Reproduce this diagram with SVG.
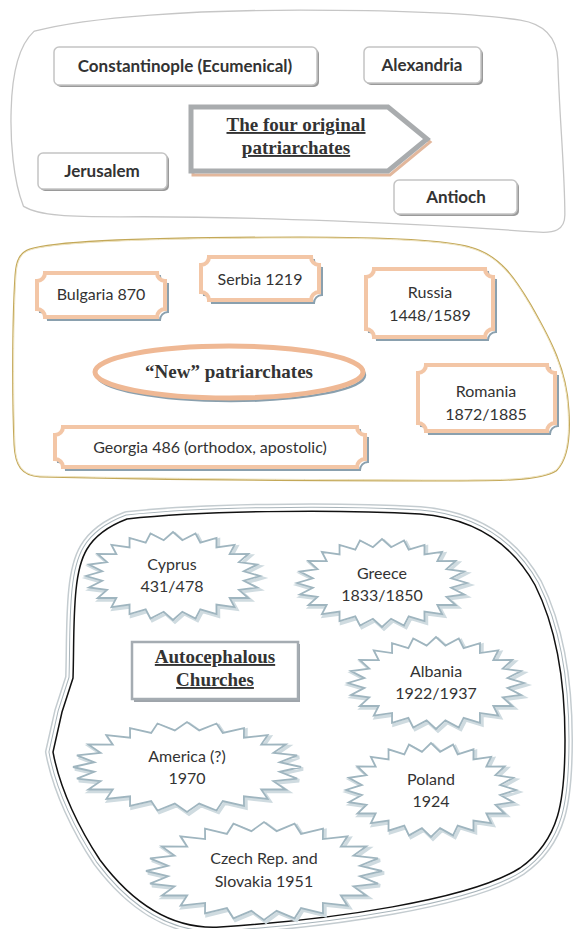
<svg xmlns="http://www.w3.org/2000/svg" width="573" height="929" viewBox="0 0 573 929">
<style>
.sans{font-family:Lato,"Open Sans","Liberation Sans",sans-serif;fill:#333;font-size:16px;text-anchor:middle}
.b{font-weight:bold;font-size:17px}
.serif{font-family:"Liberation Serif","DejaVu Serif",serif;font-weight:bold;fill:#333;font-size:19px;text-anchor:middle}
.u{text-decoration:underline}
.box1{fill:#fff;stroke:#c4c4c4;stroke-width:1.5}
.box1s{fill:#9a9a9a}
.cbox{fill:#fff;stroke:#f3c6a6;stroke-width:4}
.cboxs{fill:none;stroke:#8aa0ae;stroke-width:2}
.star{fill:#fff;stroke:#9fb5bf;stroke-width:1.8}
.stars{fill:none;stroke:#cfdbe0;stroke-width:3.5}
</style>
<defs>
<path id="st" vector-effect="non-scaling-stroke" d="M100,0 L81.3,10.7 96.6,25.9 75.8,31.4 86.6,50 65.1,49.9 70.7,70.7 49.9,65.1 50,86.6 31.4,75.8 25.9,96.6 10.7,81.3 0,100 -10.7,81.3 -25.9,96.6 -31.4,75.8 -50,86.6 -49.9,65.1 -70.7,70.7 -65.1,49.9 -86.6,50 -75.8,31.4 -96.6,25.9 -81.3,10.7 -100,0 -81.3,-10.7 -96.6,-25.9 -75.8,-31.4 -86.6,-50 -65.1,-49.9 -70.7,-70.7 -49.9,-65.1 -50,-86.6 -31.4,-75.8 -25.9,-96.6 -10.7,-81.3 0,-100 10.7,-81.3 25.9,-96.6 31.4,-75.8 50,-86.6 49.9,-65.1 70.7,-70.7 65.1,-49.9 86.6,-50 75.8,-31.4 96.6,-25.9 81.3,-10.7 Z"/>
<path id="b1" d="M35,33 C90,18 200,12 300,12 C400,12 480,16 520,22 C545,26 555,40 556,60 C557,110 563,170 563,215 C563,228 555,232 535,230 C420,222 250,214 120,215 C70,215 40,214 25,205 C15,180 12,140 13,110 C14,70 22,45 35,33 Z"/>
<path id="b2" d="M30,250 C60,240 200,238 300,238 C400,238 450,242 470,248 C500,256 515,280 530,305 C550,340 566,370 568,410 C570,440 566,460 556,470 C540,480 500,480 450,480 C300,480 120,478 40,476 C22,475 16,465 15,445 C13,400 13,320 16,275 C17,260 21,253 30,250 Z"/>
<path id="b3" d="M127,519 C200,511 330,509 420,514 C470,518 510,540 535,585 C555,625 565,680 565,740 C565,800 560,840 520,868 C470,900 330,920 220,927 C170,930 130,900 100,860 C80,830 60,790 53,752 L62,712 L73,678 C74,650 73,620 76,590 C79,560 85,535 127,519 Z"/>
</defs>

<!-- Section containers -->
<g id="container1">
<use href="#b1" fill="none" stroke="#c6c6c6" stroke-width="5"/>
<use href="#b1" fill="#fff" stroke="#fff" stroke-width="2.4"/>
</g>
<g id="container2">
<use href="#b2" fill="none" stroke="#c3a858" stroke-width="3"/>
<use href="#b2" fill="#fff" stroke="#efe4c2" stroke-width="1"/>
</g>
<g id="container3">
<use href="#b3" fill="none" stroke="#c4ccd0" stroke-width="16"/>
<use href="#b3" fill="none" stroke="#fff" stroke-width="13"/>
<use href="#b3" fill="none" stroke="#a8b4ba" stroke-width="9"/>
<use href="#b3" fill="none" stroke="#fff" stroke-width="7"/>
<use href="#b3" fill="#fff" stroke="none"/>
<use href="#b3" fill="none" stroke="#111" stroke-width="1.5"/>
</g>

<!-- Section 1 nodes -->
<g id="constantinople">
<rect class="box1s" x="56" y="49" width="263" height="38" rx="5"/>
<rect class="box1" x="54" y="47" width="263" height="38" rx="5"/>
<text class="sans b" x="185" y="72">Constantinople (Ecumenical)</text>
</g>
<g id="alexandria">
<rect class="box1s" x="366" y="49" width="117" height="36" rx="5"/>
<rect class="box1" x="364" y="47" width="117" height="36" rx="5"/>
<text class="sans b" x="422" y="71">Alexandria</text>
</g>
<g id="four-original">
<polygon points="193,110 390,110 430,142 390,175 193,175" fill="none" stroke="#e2b79c" stroke-width="3"/>
<polygon points="191,107 388,107 427,139 388,171 191,171" fill="#fff" stroke="#a9acae" stroke-width="5"/>
<text class="serif u" x="296" y="131">The four original</text>
<text class="serif u" x="296" y="154">patriarchates</text>
</g>
<g id="jerusalem">
<rect class="box1s" x="40" y="155" width="129" height="36" rx="5"/>
<rect class="box1" x="38" y="153" width="129" height="36" rx="5"/>
<text class="sans b" x="102" y="177">Jerusalem</text>
</g>
<g id="antioch">
<rect class="box1s" x="396" y="182" width="123" height="34" rx="5"/>
<rect class="box1" x="394" y="180" width="123" height="34" rx="5"/>
<text class="sans b" x="456" y="203">Antioch</text>
</g>

<!-- Section 2 nodes -->
<g id="bulgaria">
<path class="cboxs" d="M48,276 H160 A8 8 0 0 0 168,284 V312 A8 8 0 0 0 160,320 H48 A8 8 0 0 0 40,312 V284 A8 8 0 0 0 48,276 Z"/>
<path class="cbox" d="M45,273 H157 A8 8 0 0 0 165,281 V309 A8 8 0 0 0 157,317 H45 A8 8 0 0 0 37,309 V281 A8 8 0 0 0 45,273 Z"/>
<text class="sans" x="101" y="300">Bulgaria 870</text>
</g>
<g id="serbia">
<path class="cboxs" d="M212,260 H314 A8 8 0 0 0 322,268 V295 A8 8 0 0 0 314,303 H212 A8 8 0 0 0 204,295 V268 A8 8 0 0 0 212,260 Z"/>
<path class="cbox" d="M209,257 H311 A8 8 0 0 0 319,265 V292 A8 8 0 0 0 311,300 H209 A8 8 0 0 0 201,292 V265 A8 8 0 0 0 209,257 Z"/>
<text class="sans" x="260" y="285">Serbia 1219</text>
</g>
<g id="russia">
<path class="cboxs" d="M377,272 H488 A8 8 0 0 0 496,280 V332 A8 8 0 0 0 488,340 H377 A8 8 0 0 0 369,332 V280 A8 8 0 0 0 377,272 Z"/>
<path class="cbox" d="M374,269 H485 A8 8 0 0 0 493,277 V329 A8 8 0 0 0 485,337 H374 A8 8 0 0 0 366,329 V277 A8 8 0 0 0 374,269 Z"/>
<text class="sans" x="430" y="298">Russia</text>
<text class="sans" x="430" y="321">1448/1589</text>
</g>
<g id="new-patriarchates">
<ellipse cx="231" cy="375" rx="134" ry="26" fill="none" stroke="#8aa0ae" stroke-width="2.5"/>
<ellipse cx="229" cy="372" rx="134" ry="26" fill="#fff" stroke="#efb894" stroke-width="5"/>
<text class="serif" x="229" y="378">“New” patriarchates</text>
</g>
<g id="romania">
<path class="cboxs" d="M429,368 H550 A8 8 0 0 0 558,376 V426 A8 8 0 0 0 550,434 H429 A8 8 0 0 0 421,426 V376 A8 8 0 0 0 429,368 Z"/>
<path class="cbox" d="M426,365 H547 A8 8 0 0 0 555,373 V423 A8 8 0 0 0 547,431 H426 A8 8 0 0 0 418,423 V373 A8 8 0 0 0 426,365 Z"/>
<text class="sans" x="486" y="397">Romania</text>
<text class="sans" x="486" y="420">1872/1885</text>
</g>
<g id="georgia">
<path class="cboxs" d="M66,430 H360 A8 8 0 0 0 368,438 V462 A8 8 0 0 0 360,470 H66 A8 8 0 0 0 58,462 V438 A8 8 0 0 0 66,430 Z"/>
<path class="cbox" d="M63,427 H357 A8 8 0 0 0 365,435 V459 A8 8 0 0 0 357,467 H63 A8 8 0 0 0 55,459 V435 A8 8 0 0 0 63,427 Z"/>
<text class="sans" x="210" y="453">Georgia 486 (orthodox, apostolic)</text>
</g>

<!-- Section 3 nodes -->
<g id="cyprus">
<use href="#st" class="stars" transform="translate(175,578) scale(0.87,0.44)"/>
<use href="#st" class="star" transform="translate(173,576) scale(0.87,0.44)"/>
<text class="sans" x="172" y="570">Cyprus</text>
<text class="sans" x="172" y="592">431/478</text>
</g>
<g id="greece">
<use href="#st" class="stars" transform="translate(384,585) scale(0.85,0.44)"/>
<use href="#st" class="star" transform="translate(382,583) scale(0.85,0.44)"/>
<text class="sans" x="382" y="579">Greece</text>
<text class="sans" x="382" y="601">1833/1850</text>
</g>
<g id="autocephalous">
<rect x="134" y="644" width="166" height="58" fill="#9ea4aa"/>
<rect x="132" y="642" width="166" height="57" fill="#fff" stroke="#a5acb2" stroke-width="2.5"/>
<text class="serif u" x="215" y="663">Autocephalous</text>
<text class="serif u" x="215" y="686">Churches</text>
</g>
<g id="albania">
<use href="#st" class="stars" transform="translate(438,685) scale(0.88,0.46)"/>
<use href="#st" class="star" transform="translate(436,683) scale(0.88,0.46)"/>
<text class="sans" x="436" y="677">Albania</text>
<text class="sans" x="436" y="699">1922/1937</text>
</g>
<g id="america">
<use href="#st" class="stars" transform="translate(189,769) scale(1.14,0.45)"/>
<use href="#st" class="star" transform="translate(187,767) scale(1.14,0.45)"/>
<text class="sans" x="187" y="762">America (?)</text>
<text class="sans" x="187" y="784">1970</text>
</g>
<g id="poland">
<use href="#st" class="stars" transform="translate(433,792) scale(0.85,0.47)"/>
<use href="#st" class="star" transform="translate(431,790) scale(0.85,0.47)"/>
<text class="sans" x="431" y="785">Poland</text>
<text class="sans" x="431" y="807">1924</text>
</g>
<g id="czech">
<use href="#st" class="stars" transform="translate(266,873) scale(1.18,0.49)"/>
<use href="#st" class="star" transform="translate(264,871) scale(1.18,0.49)"/>
<text class="sans" x="264" y="864">Czech Rep. and</text>
<text class="sans" x="264" y="887">Slovakia 1951</text>
</g>

<g id="connectors"></g>
</svg>
